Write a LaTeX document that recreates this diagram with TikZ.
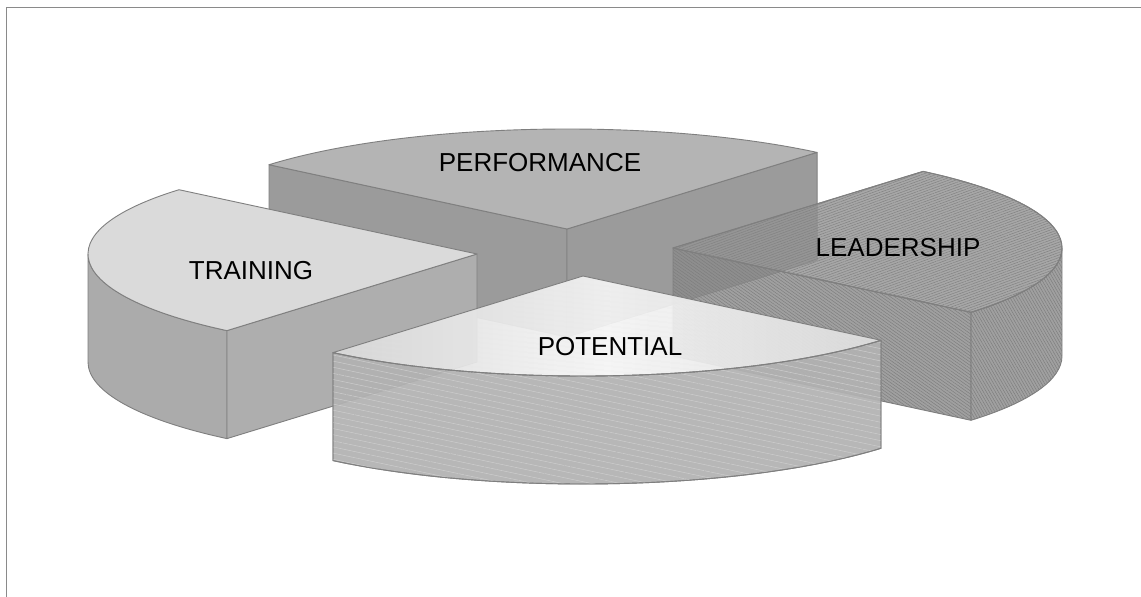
\documentclass[tikz,border=0pt]{standalone}
\usepackage{fontspec}
\setmainfont{Liberation Sans}
\usetikzlibrary{patterns.meta}
\definecolor{edgec}{HTML}{7F7F7F}
\definecolor{framec}{HTML}{8A8A8A}
\definecolor{pftop}{HTML}{B4B4B4}
\definecolor{pfside}{HTML}{9B9B9B}
\definecolor{trtop}{HTML}{DADADA}
\definecolor{trside}{HTML}{ABABAB}
\definecolor{ldtop}{HTML}{949494}
\definecolor{ldside}{HTML}{8C8C8C}
\definecolor{ldhatch}{HTML}{7E7E7E}
\definecolor{pttop}{HTML}{E6E6E6}
\definecolor{ptside}{HTML}{B2B2B2}
\tikzset{
  face/.style={draw=edgec, line width=0.9pt, line join=round},
  ell/.style={x radius=389, y radius=100},
  lbl/.style={font=\fontsize{26}{30}\selectfont, text=black, inner sep=0pt},
}
\begin{document}
\begin{tikzpicture}[x=1pt,y=-1pt]
\useasboundingbox (0,0) rectangle (1141,597);
\fill[white] (0,0) rectangle (1141,597);
\draw[framec, line width=1.3pt] (6.5,597) -- (6.5,7.5) -- (1141,7.5);

% centres of the four slices
\coordinate (pfC) at (567,229);
\coordinate (trC) at (477,254);
\coordinate (ldC) at (673,248);
\coordinate (ptC) at (583,276);
\path (pfC) ++(220:389 and 100) coordinate (pf220);
\path (pfC) ++(310:389 and 100) coordinate (pf310);
\path (trC) ++(130:389 and 100) coordinate (tr130);
\path (trC) ++(220:389 and 100) coordinate (tr220);
\path (ldC) ++(310:389 and 100) coordinate (ld310);
\path (ldC) ++(40:389 and 100) coordinate (ld40);
\path (ldC) ++(0:389 and 100) coordinate (ld0);
\path (ptC) ++(40:389 and 100) coordinate (pt40);

% PERFORMANCE (back)
\filldraw[face, fill=pfside] (pfC) -- (pf220) -- ++(0,108) -- ([yshift=-108pt]pfC) -- cycle;
\filldraw[face, fill=pfside] (pfC) -- (pf310) -- ++(0,108) -- ([yshift=-108pt]pfC) -- cycle;
\filldraw[face, fill=pftop] (pfC) -- (pf220) arc[start angle=220, end angle=310, ell] -- cycle;

% TRAINING (left)
\filldraw[face, fill=trside] (tr130) arc[start angle=130, end angle=180, ell] -- ++(0,108) arc[start angle=180, end angle=130, ell] -- cycle;
\filldraw[face, fill=trside!97!white] (trC) -- (tr130) -- ++(0,108) -- ([yshift=-108pt]trC) -- cycle;
\filldraw[face, fill=trtop] (trC) -- (tr130) arc[start angle=130, end angle=220, ell] -- cycle;

% LEADERSHIP (right)
\begin{scope}[fill opacity=0.82]
\filldraw[face, fill=ldside] (ldC) -- (ld40) -- ++(0,108) -- ([yshift=-108pt]ldC) -- cycle;
\fill[pattern={Lines[angle=-35, distance=2.6pt, line width=0.5pt]}, pattern color=ldhatch] (ldC) -- (ld40) -- ++(0,108) -- ([yshift=-108pt]ldC) -- cycle;
\filldraw[face, fill=ldside] (ld0) arc[start angle=0, end angle=40, ell] -- ++(0,108) arc[start angle=40, end angle=0, ell] -- cycle;
\fill[pattern={Lines[angle=-60, distance=2.6pt, line width=0.5pt]}, pattern color=ldhatch] (ld0) arc[start angle=0, end angle=40, ell] -- ++(0,108) arc[start angle=40, end angle=0, ell] -- cycle;
\filldraw[face, fill=ldtop] (ldC) -- (ld310) arc[start angle=310, end angle=400, ell] -- cycle;
\fill[pattern={Lines[angle=20, distance=2.4pt, line width=0.5pt]}, pattern color=ldhatch!80!ldtop] (ldC) -- (ld310) arc[start angle=310, end angle=400, ell] -- cycle;
\end{scope}
\draw[face] (ldC) -- (ld310) arc[start angle=310, end angle=400, ell] -- cycle;

% POTENTIAL (front)
\begin{scope}[fill opacity=0.93]
\filldraw[face, fill=ptside] (pt40) arc[start angle=40, end angle=130, ell] -- ++(0,108) arc[start angle=130, end angle=40, ell] -- cycle;
\fill[pattern={Lines[angle=-12, distance=6pt, line width=0.5pt]}, pattern color=white!35!ptside] (pt40) arc[start angle=40, end angle=130, ell] -- ++(0,108) arc[start angle=130, end angle=40, ell] -- cycle;
\shade[left color=pttop!88!gray, right color=pttop!92!gray, middle color=white!96!black] (ptC) -- (pt40) arc[start angle=40, end angle=130, ell] -- cycle;
\fill[pattern={Lines[angle=-6, distance=4pt, line width=0.4pt]}, pattern color=gray!20] (ptC) -- (pt40) arc[start angle=40, end angle=130, ell] -- cycle;
\end{scope}
\draw[face] (ptC) -- (pt40) arc[start angle=40, end angle=130, ell] -- cycle;
\draw[face] (pt40) arc[start angle=40, end angle=130, ell] -- ++(0,108) arc[start angle=130, end angle=40, ell] -- cycle;

% labels
\node[lbl] (lperf) at (540,163) {PERFORMANCE};
\node[lbl] (ltrain) at (251,271) {TRAINING};
\node[lbl] (llead) at (898,248) {LEADERSHIP};
\node[lbl] (lpot) at (610,347) {POTENTIAL};
\end{tikzpicture}
\end{document}
